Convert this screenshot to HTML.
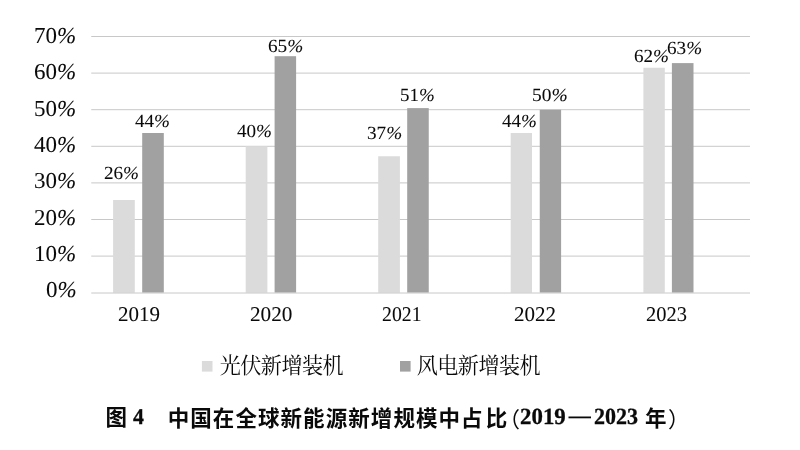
<!DOCTYPE html>
<html lang="zh-CN">
<head>
<meta charset="utf-8">
<title>图 4 中国在全球新能源新增规模中占比（2019—2023 年）</title>
<style>
html,body{margin:0;padding:0;background:#fff;}
body{width:800px;height:450px;overflow:hidden;position:relative;font-family:"Liberation Serif",serif;color:#0a0a0a;}
#chart{position:absolute;left:0;top:0;width:800px;height:450px;filter:grayscale(1);}
#chart svg{position:absolute;left:0;top:0;display:block;}
.t{text-rendering:geometricPrecision;position:absolute;line-height:0;white-space:nowrap;transform-origin:0 0;-webkit-text-stroke:0.06px currentColor;}
.cn{font-weight:bold;-webkit-text-stroke:0.3px currentColor;}
.gh{color:transparent;-webkit-text-stroke:0;}
</style>
</head>
<body>
<div id="chart">
<svg width="800" height="450" viewBox="0 0 800 450">
<rect width="800" height="450" fill="#ffffff"/>
<g stroke="#c8c8c8" stroke-width="1.00" fill="none">
<line x1="91.25" x2="750.00" y1="36.50" y2="36.50"/>
<line x1="91.25" x2="750.00" y1="73.10" y2="73.10"/>
<line x1="91.25" x2="750.00" y1="109.70" y2="109.70"/>
<line x1="91.25" x2="750.00" y1="146.30" y2="146.30"/>
<line x1="91.25" x2="750.00" y1="182.90" y2="182.90"/>
<line x1="91.25" x2="750.00" y1="219.50" y2="219.50"/>
<line x1="91.25" x2="750.00" y1="256.10" y2="256.10"/>
</g>
<g fill="#dbdbdb">
<rect x="113.10" y="200.00" width="21.70" height="92.70"/>
<rect x="245.70" y="146.30" width="21.70" height="146.40"/>
<rect x="378.20" y="156.25" width="21.70" height="136.45"/>
<rect x="510.70" y="133.00" width="21.30" height="159.70"/>
<rect x="643.40" y="67.75" width="21.40" height="224.95"/>
</g>
<g fill="#a1a1a1">
<rect x="142.20" y="133.00" width="21.60" height="159.70"/>
<rect x="274.60" y="56.20" width="21.50" height="236.50"/>
<rect x="407.20" y="108.10" width="21.55" height="184.60"/>
<rect x="539.75" y="109.75" width="21.35" height="182.95"/>
<rect x="671.90" y="63.10" width="21.60" height="229.60"/>
</g>
<line x1="91.25" x2="750.00" y1="293.00" y2="293.00" stroke="#c8c8c8" stroke-width="1.00"/>
<rect x="201.90" y="361.00" width="10.60" height="10.60" fill="#dbdbdb"/>
<rect x="400.00" y="361.00" width="10.60" height="10.60" fill="#a1a1a1"/>
<g fill="#0a0a0a" aria-label="光伏新增装机">
<text x="219.65 240.23 260.81 281.39 301.97 322.55" y="373.10" font-size="21.1" font-family="'Liberation Serif','Noto Serif CJK SC',serif">光伏新增装机</text>
</g>
<g fill="#0a0a0a" aria-label="风电新增装机">
<text x="416.65 437.23 457.81 478.39 498.97 519.55" y="373.10" font-size="21.1" font-family="'Liberation Serif','Noto Serif CJK SC',serif">风电新增装机</text>
</g>
<g fill="#0a0a0a" aria-label="图 4 中国在全球新能源新增规模中占比（2019—2023 年）" font-family="'Liberation Sans','Noto Sans CJK SC',sans-serif" font-weight="bold" font-size="21.5">
<text x="105.53" y="425.2">图</text>
<text x="167.70 190.27 212.84 235.41 257.98 280.55 303.12 325.69 348.26 370.83 393.40 415.97 438.54 461.11 485.77" y="425.80">中国在全球新能源新增规模中占比</text>
<text x="498.48" y="426.66" font-weight="normal">（</text>
<text x="645.06" y="425.84">年</text>
<text x="667.95" y="426.66" font-weight="normal">）</text>
<rect x="568.50" y="416.50" width="22.50" height="1.80"/>
</g>
</svg>
<div class="t ya" style="left:34.19px;top:36.00px;font-size:22.80px;transform:scaleX(1.0080)">70<i>%</i></div>
<div class="t ya" style="left:34.19px;top:72.00px;font-size:22.80px;transform:scaleX(1.0080)">60<i>%</i></div>
<div class="t ya" style="left:34.19px;top:109.00px;font-size:22.80px;transform:scaleX(1.0080)">50<i>%</i></div>
<div class="t ya" style="left:34.19px;top:145.00px;font-size:22.80px;transform:scaleX(1.0080)">40<i>%</i></div>
<div class="t ya" style="left:34.19px;top:181.00px;font-size:22.80px;transform:scaleX(1.0080)">30<i>%</i></div>
<div class="t ya" style="left:34.19px;top:218.00px;font-size:22.80px;transform:scaleX(1.0080)">20<i>%</i></div>
<div class="t ya" style="left:34.19px;top:254.00px;font-size:22.80px;transform:scaleX(1.0080)">10<i>%</i></div>
<div class="t ya" style="left:45.68px;top:290.00px;font-size:22.80px;transform:scaleX(1.0080)">0<i>%</i></div>
<div class="t xa" style="left:117.93px;top:314.00px;font-size:21.00px;transform:scaleX(1.0008)">2019</div>
<div class="t xa" style="left:249.57px;top:314.00px;font-size:21.00px;transform:scaleX(1.0117)">2020</div>
<div class="t xa" style="left:381.88px;top:314.00px;font-size:21.00px;transform:scaleX(0.9418)">2021</div>
<div class="t xa" style="left:513.58px;top:314.00px;font-size:21.00px;transform:scaleX(1.0020)">2022</div>
<div class="t xa" style="left:646.10px;top:314.00px;font-size:21.00px;transform:scaleX(0.9750)">2023</div>
<div class="t dl" style="left:104.16px;top:174.00px;font-size:18.50px;transform:scaleX(1.0331)">26<i>%</i></div>
<div class="t dl" style="left:135.13px;top:122.00px;font-size:18.50px;transform:scaleX(1.0310)">44<i>%</i></div>
<div class="t dl" style="left:237.38px;top:132.00px;font-size:18.50px;transform:scaleX(1.0310)">40<i>%</i></div>
<div class="t dl" style="left:268.27px;top:47.00px;font-size:18.50px;transform:scaleX(1.0387)">65<i>%</i></div>
<div class="t dl" style="left:367.18px;top:134.00px;font-size:18.50px;transform:scaleX(1.0370)">37<i>%</i></div>
<div class="t dl" style="left:400.15px;top:96.00px;font-size:18.50px;transform:scaleX(1.0227)">51<i>%</i></div>
<div class="t dl" style="left:501.88px;top:122.00px;font-size:18.50px;transform:scaleX(1.0264)">44<i>%</i></div>
<div class="t dl" style="left:531.97px;top:96.00px;font-size:18.50px;transform:scaleX(1.0510)">50<i>%</i></div>
<div class="t dl" style="left:633.58px;top:57.00px;font-size:18.50px;transform:scaleX(1.0325)">62<i>%</i></div>
<div class="t dl" style="left:667.28px;top:49.00px;font-size:18.50px;transform:scaleX(1.0340)">63<i>%</i></div>
<div class="t cn" style="left:132.80px;top:417.00px;font-size:22.40px;transform:scaleX(0.9735)">4</div>
<div class="t cn" style="left:519.94px;top:417.00px;font-size:23.20px;transform:scaleX(0.9868)">2019</div>
<div class="t cn" style="left:594.07px;top:417.00px;font-size:23.20px;transform:scaleX(0.9500)">2023</div>
<div class="t gh" style="left:219.65px;top:365.98px;font-size:21.10px">光伏新增装机</div>
<div class="t gh" style="left:416.65px;top:365.98px;font-size:21.10px">风电新增装机</div>
<div class="t gh" style="left:105.50px;top:418.55px;font-size:21.50px">图 4　中国在全球新能源新增规模中占比（2019—2023 年）</div>
</div>
</body>
</html>
